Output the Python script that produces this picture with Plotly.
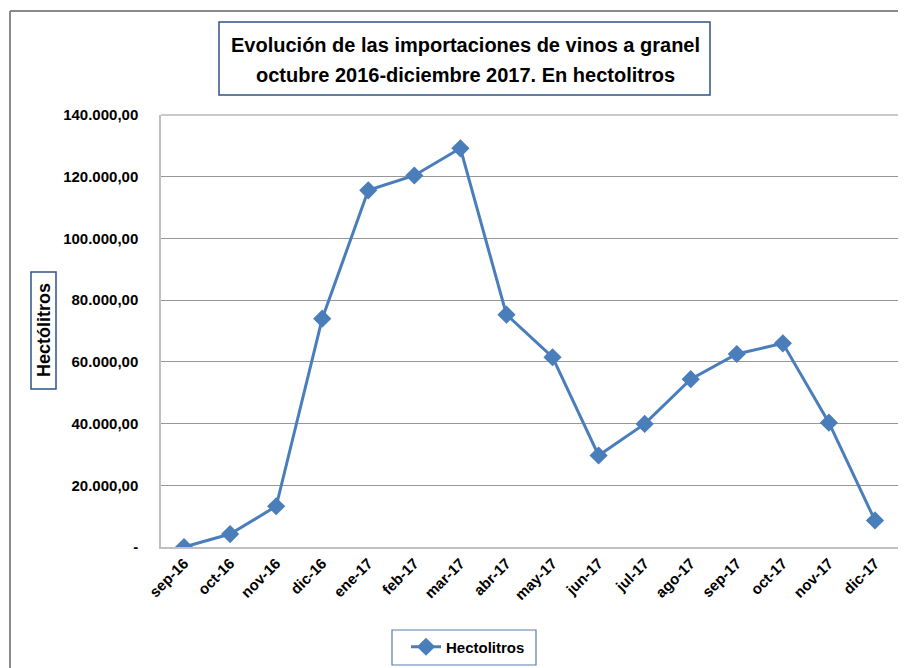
import plotly.graph_objects as go

months = ["sep-16", "oct-16", "nov-16", "dic-16", "ene-17", "feb-17", "mar-17", "abr-17",
          "may-17", "jun-17", "jul-17", "ago-17", "sep-17", "oct-17", "nov-17", "dic-17"]
hectolitros = [0, 4200, 13200, 74000, 115600, 120400, 129200, 75300,
               61500, 29650, 39900, 54400, 62550, 66000, 40300, 8600]
y_tickvals = [0, 20000, 40000, 60000, 80000, 100000, 120000, 140000]
y_ticktext = ["-", "20.000,00", "40.000,00", "60.000,00", "80.000,00",
              "100.000,00", "120.000,00", "140.000,00"]
title_lines = ["Evolución de las importaciones de vinos a granel",
               "octubre 2016-diciembre 2017. En hectolitros"]

# The page body has an 8px margin; geometry below is given in window pixels.
OFF = 8
W, H = 906 - OFF, 668 - OFF
L, R, T, B = 161, 898, 115, 547
pw, ph = R - L, B - T


def px(x):
    return (x - L) / pw


def py(y):
    return (B - y) / ph


fig = go.Figure()
fig.add_trace(go.Scatter(
    x=months, y=hectolitros, mode="lines+markers", name="Hectolitros",
    line=dict(color="#4a7ebb", width=3),
    marker=dict(symbol="diamond", size=14, color="#4a7ebb"),
))

arial = "Liberation Sans, Arial, sans-serif"

fig.update_layout(
    width=W, height=H,
    margin=dict(l=L - OFF, r=W - (R - OFF), t=T - OFF, b=H - (B - OFF), autoexpand=False),
    paper_bgcolor="white", plot_bgcolor="white",
    showlegend=True,
    legend=dict(orientation="h", x=px(406), y=py(647), xanchor="left", yanchor="middle",
                font=dict(family=arial, size=15, color="black", weight="bold"),
                bgcolor="rgba(0,0,0,0)", borderwidth=0),
    xaxis=dict(
        type="category", range=[-0.5, len(months) - 0.5],
        tickangle=-45, tickfont=dict(family=arial, size=15, color="black", weight="bold"),
        showgrid=False, showline=True, linecolor="#c0c0c0", linewidth=1.5,
        ticks="", zeroline=False,
    ),
    yaxis=dict(
        range=[0, 140000], tickvals=y_tickvals, ticktext=y_ticktext,
        tickfont=dict(family=arial, size=15, color="black", weight="bold"),
        showgrid=True, gridcolor="#979797", gridwidth=1,
        showline=True, linecolor="#c0c0c0", linewidth=1.5, mirror=False,
        ticks="outside", ticklen=18, tickcolor="rgba(0,0,0,0)",
        zeroline=False,
    ),
    shapes=[
        # outer chart border (top and left)
        dict(type="line", xref="paper", yref="paper", x0=px(10), x1=px(910), y0=py(11), y1=py(11),
             line=dict(color="#8a8a8a", width=2)),
        dict(type="line", xref="paper", yref="paper", x0=px(10), x1=px(10), y0=py(11), y1=py(680),
             line=dict(color="#8a8a8a", width=2)),
        # top border of plot area
        dict(type="line", xref="paper", yref="paper", x0=0, x1=1, y0=1, y1=1,
             line=dict(color="#b8b8b8", width=1.5)),
        # title box
        dict(type="rect", xref="paper", yref="paper", x0=px(219), x1=px(710), y0=py(95), y1=py(22),
             line=dict(color="#2f5288", width=1.5), fillcolor="white", layer="below"),
        # y-axis title box
        dict(type="rect", xref="paper", yref="paper", x0=px(31), x1=px(56), y0=py(389), y1=py(272),
             line=dict(color="#2f5288", width=1.5), fillcolor="white"),
        # legend box
        dict(type="rect", xref="paper", yref="paper", x0=px(392), x1=px(536), y0=py(665), y1=py(630),
             line=dict(color="#5a7cb0", width=1.2), fillcolor="rgba(0,0,0,0)"),
    ],
    annotations=[
        dict(text="<b>" + title_lines[0] + "</b>",
             xref="paper", yref="paper", x=px(465), y=py(45), xanchor="center", yanchor="middle",
             showarrow=False, font=dict(family=arial, size=20, color="black")),
        dict(text="<b>" + title_lines[1] + "</b>",
             xref="paper", yref="paper", x=px(465), y=py(74.5), xanchor="center", yanchor="middle",
             showarrow=False, font=dict(family=arial, size=20, color="black")),
        dict(text="<b>Hectólitros</b>", textangle=-90,
             xref="paper", yref="paper", x=px(43.5), y=py(330.5), xanchor="center", yanchor="middle",
             showarrow=False, font=dict(family=arial, size=18, color="black")),
    ],
)

fig.write_html("out.html")
